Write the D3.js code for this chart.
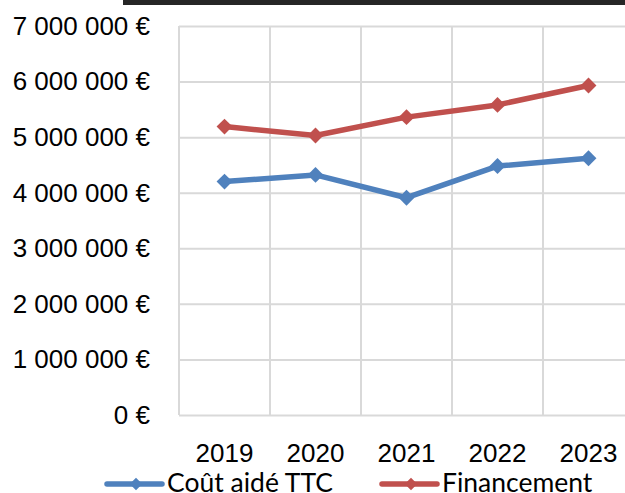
<!DOCTYPE html>
<html>
<head>
<meta charset="utf-8">
<script src="https://cdn.jsdelivr.net/npm/d3@7"></script>
<style>
  html, body { margin: 0; padding: 0; background: #fff; }
  svg { display: block; font-family: Lato, "Noto Sans", sans-serif; }
</style>
</head>
<body>
<svg id="chart"></svg>
<script>
const years = ["2019", "2020", "2021", "2022", "2023"];
const coutAide = [4200000, 4320000, 3910000, 4480000, 4620000];
const financement = [5190000, 5030000, 5360000, 5580000, 5930000];
const yTicks = [0, 1000000, 2000000, 3000000, 4000000, 5000000, 6000000, 7000000];

const width = 625, height = 493;
const plot = { left: 179, right: 634, top: 26, bottom: 415 };

const svg = d3.select("svg#chart").attr("width", width).attr("height", height);

// dark band at the top (cropped title bar)
svg.append("rect").attr("x", 123).attr("y", 0).attr("width", width - 123).attr("height", 5).attr("fill", "#262626");

const x = d3.scaleBand().domain(years).range([plot.left, plot.right]);
const y = d3.scaleLinear().domain([0, 7000000]).range([plot.bottom, plot.top]);

const fmt = d => d3.format(",")(d).replace(/,/g, " ") + " €";

// vertical gridlines at category boundaries
svg.append("g").selectAll("line")
  .data(years.concat(["end"]))
  .join("line")
  .attr("x1", (d, i) => plot.left + i * x.bandwidth())
  .attr("x2", (d, i) => plot.left + i * x.bandwidth())
  .attr("y1", plot.top).attr("y2", plot.bottom)
  .attr("stroke", "#d9d9d9").attr("stroke-width", 2);

// y axis with horizontal gridlines
const yAxis = svg.append("g")
  .attr("transform", `translate(${plot.left},0)`)
  .call(d3.axisLeft(y).tickValues(yTicks).tickFormat(fmt)
    .tickSizeInner(-(plot.right - plot.left)).tickSizeOuter(0).tickPadding(29));
yAxis.select(".domain").remove();
yAxis.selectAll(".tick line").attr("stroke", "#d9d9d9").attr("stroke-width", 2);
yAxis.selectAll(".tick text").attr("font-size", 26).attr("fill", "#000");

// x axis labels
const xAxis = svg.append("g")
  .attr("transform", `translate(0,${plot.bottom})`)
  .call(d3.axisBottom(x).tickSize(0).tickPadding(29));
xAxis.select(".domain").remove();
xAxis.selectAll(".tick text").attr("font-size", 26).attr("fill", "#000");

const series = [
  { name: "Coût aidé TTC", values: coutAide, color: "#4f81bd", lx: 107 },
  { name: "Financement", values: financement, color: "#c0504d", lx: 382 }
];

const line = d3.line()
  .x((d, i) => x(years[i]) + x.bandwidth() / 2)
  .y(d => y(d));

const diamond = d3.symbol().type(d3.symbolDiamond2);

series.forEach(s => {
  svg.append("path")
    .attr("d", line(s.values))
    .attr("fill", "none")
    .attr("stroke", s.color)
    .attr("stroke-width", 5.5)
    .attr("stroke-linejoin", "round");
  svg.append("g").selectAll("path")
    .data(s.values)
    .join("path")
    .attr("transform", (d, i) => `translate(${x(years[i]) + x.bandwidth() / 2},${y(d)})`)
    .attr("d", diamond.size(160)())
    .attr("fill", s.color);

  // legend entry
  const g = svg.append("g").attr("transform", `translate(${s.lx},484)`);
  g.append("line").attr("x1", 0).attr("x2", 55).attr("y1", 0).attr("y2", 0)
    .attr("stroke", s.color).attr("stroke-width", 5.5).attr("stroke-linecap", "round");
  g.append("path").attr("transform", "translate(29,0)").attr("d", diamond.size(100)()).attr("fill", s.color);
  g.append("text").attr("x", 60).attr("y", 0).attr("dy", "0.3em")
    .attr("font-size", 26.5).attr("fill", "#000").text(s.name);
});
</script>
</body>
</html>
